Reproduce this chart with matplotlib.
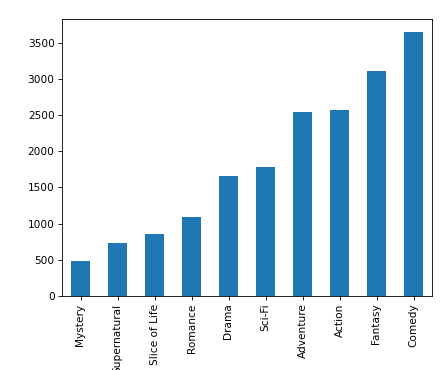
import matplotlib
matplotlib.use("Agg")
import matplotlib.pyplot as plt
import pandas as pd

# genre counts
genres = ["Mystery", "Supernatural", "Slice of Life", "Romance", "Drama",
          "Sci-Fi", "Adventure", "Action", "Fantasy", "Comedy"]
counts = [490, 729, 863, 1085, 1652, 1776, 2545, 2569, 3104, 3645]

s = pd.Series(counts, index=genres)

# reference is a downscaled render (~0.76), so draw at a low dpi
dpi = 76
fig = plt.figure(figsize=(447 / dpi, 370 / dpi), dpi=dpi)
ax = fig.add_axes([62 / 447, 74 / 370, 370 / 447, 277 / 370])
s.plot(kind="bar", ax=ax, color="#1f77b4")

fig.savefig("out.png", dpi=dpi)
